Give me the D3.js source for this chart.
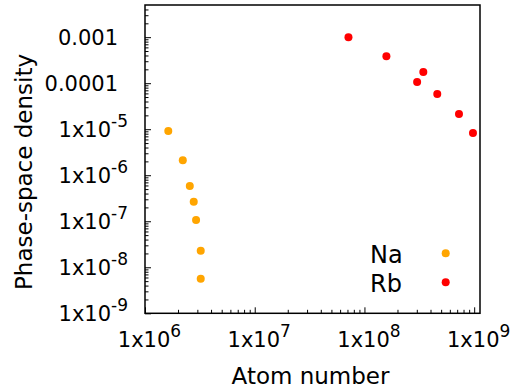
<!DOCTYPE html>
<html>
<head>
<meta charset="utf-8">
<script src="https://cdn.jsdelivr.net/npm/d3@7"></script>
<style>
  body { margin: 0; background: #fff; }
  text { font-family: "DejaVu Sans", sans-serif; fill: #000; }
</style>
</head>
<body>
<div id="chart"></div>
<script>
// values
var naAtoms = [1.63e6, 2.21e6, 2.56e6, 2.78e6, 2.92e6, 3.22e6, 3.22e6];
var naPsd   = [9.1e-6, 2.11e-6, 5.86e-7, 2.64e-7, 1.07e-7, 2.28e-8, 5.63e-9];
var rbAtoms = [7.15e7, 1.585e8, 3.44e8, 3.02e8, 4.61e8, 7.27e8, 9.75e8];
var rbPsd   = [1.0e-3, 3.87e-4, 1.74e-4, 1.06e-4, 5.8e-5, 2.14e-5, 8.27e-6];

var xTicks = [1e6, 1e7, 1e8, 1e9];
var xTickLabels = ["1x10^6", "1x10^7", "1x10^8", "1x10^9"];
var yTicks = [1e-9, 1e-8, 1e-7, 1e-6, 1e-5, 1e-4, 1e-3];
var yTickLabels = ["1x10^-9", "1x10^-8", "1x10^-7", "1x10^-6", "1x10^-5", "0.0001", "0.001"];

var series = [
  { name: "Na", color: "#ffa500", atoms: naAtoms, psd: naPsd },
  { name: "Rb", color: "#ff0000", atoms: rbAtoms, psd: rbPsd },
];

var width = 513, height = 392;
// plot box (note: "top" is taken by window.top)
var pLeft = 145, pRight = 480, pTop = 5, pBottom = 313.3;

var x = d3.scaleLog().domain([1e6, 1.13e9]).range([pLeft, pRight]);
var y = d3.scaleLog().domain([1e-9, 5e-3]).range([pBottom, pTop]);

// 2..9 between decades
function minors(scale) {
  var d = scale.domain(), out = [];
  for (var e = Math.floor(Math.log10(d[0])); e <= Math.ceil(Math.log10(d[1])); e++) {
    for (var m = 2; m <= 9; m++) {
      var v = m * Math.pow(10, e);
      if (v > d[0] && v < d[1]) out.push(v);
    }
  }
  return out;
}

var svg = d3.select("#chart").append("svg")
  .attr("width", width)
  .attr("height", height);

// minor ticks
svg.append("g")
  .attr("transform", "translate(0," + pBottom + ")")
  .call(d3.axisBottom(x).tickValues(minors(x)).tickSize(-3.5).tickFormat(""))
  .call(g => g.select(".domain").remove());
svg.append("g")
  .attr("transform", "translate(" + pLeft + ",0)")
  .call(d3.axisLeft(y).tickValues(minors(y)).tickSize(-3.5).tickFormat(""))
  .call(g => g.select(".domain").remove());

// major ticks
var xAxis = svg.append("g")
  .attr("transform", "translate(0," + pBottom + ")")
  .call(d3.axisBottom(x).tickValues(xTicks).tickSize(-6).tickFormat(""));
xAxis.select(".domain").remove();

var yAxis = svg.append("g")
  .attr("transform", "translate(" + pLeft + ",0)")
  .call(d3.axisLeft(y).tickValues(yTicks).tickSize(-6).tickFormat(""));
yAxis.select(".domain").remove();

svg.selectAll(".tick line").attr("stroke", "#000");

// write "1x10^6" with a raised exponent
function label(sel, str) {
  var parts = str.split("^");
  sel.append("tspan").text(parts[0]);
  if (parts[1]) {
    sel.append("tspan")
      .attr("dy", -10)
      .attr("font-size", 17)
      .text(parts[1]);
  }
}

xAxis.selectAll(".tick").each(function (d, i) {
  var t = d3.select(this).append("text")
    .attr("x", 4)
    .attr("y", 33.5)
    .attr("text-anchor", "middle")
    .attr("font-size", 21);
  label(t, xTickLabels[i]);
});

yAxis.selectAll(".tick").each(function (d, i) {
  var sup = yTickLabels[i].indexOf("^") >= 0;
  var t = d3.select(this).append("text")
    .attr("x", sup ? -17 : -27)
    .attr("y", 7)
    .attr("text-anchor", "end")
    .attr("font-size", 21);
  label(t, yTickLabels[i]);
});

// frame
svg.append("rect")
  .attr("x", pLeft)
  .attr("y", pTop)
  .attr("width", pRight - pLeft)
  .attr("height", pBottom - pTop)
  .attr("fill", "none")
  .attr("stroke", "#000")
  .attr("stroke-width", 1.5);

// points
series.forEach(function (s) {
  svg.append("g")
    .selectAll("circle")
    .data(s.atoms.map((a, i) => [a, s.psd[i]]))
    .enter()
    .append("circle")
    .attr("cx", d => x(d[0]))
    .attr("cy", d => y(d[1]))
    .attr("r", 4)
    .attr("fill", s.color);
});

// legend
var legend = svg.append("g")
  .selectAll("g")
  .data(series)
  .enter()
  .append("g")
  .attr("transform", (d, i) => "translate(370," + (262.5 + i * 29) + ")");
legend.append("text")
  .attr("font-size", 24)
  .text(d => d.name);
legend.append("circle")
  .attr("cx", 75.7)
  .attr("cy", -9.2)
  .attr("r", 4)
  .attr("fill", d => d.color);

// axis titles
svg.append("text")
  .attr("x", (pLeft + pRight) / 2 - 2)
  .attr("y", 383.5)
  .attr("text-anchor", "middle")
  .attr("font-size", 23)
  .text("Atom number");

svg.append("text")
  .attr("transform", "translate(32,172) rotate(-90)")
  .attr("text-anchor", "middle")
  .attr("font-size", 23)
  .text("Phase-space density");
</script>
</body>
</html>
